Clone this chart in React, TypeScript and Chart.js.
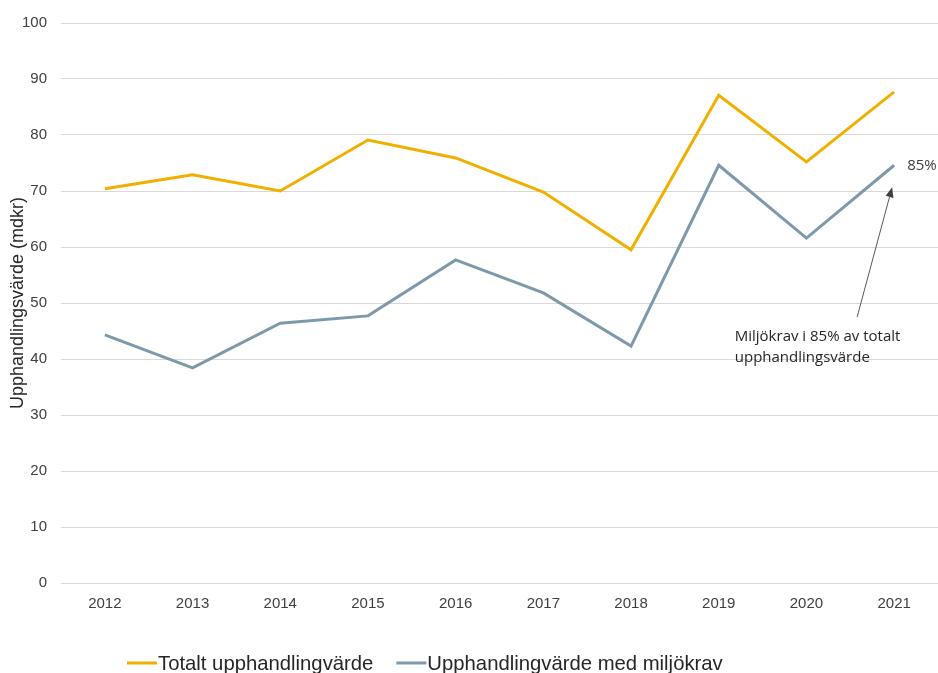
import React, { useEffect, useRef } from "react";
import { Chart, registerables } from "chart.js";

Chart.register(...registerables);

const years = ["2012", "2013", "2014", "2015", "2016", "2017", "2018", "2019", "2020", "2021"];
const totalValues = [70.4, 72.9, 70.0, 79.1, 75.9, 69.8, 59.5, 87.1, 75.2, 87.7];
const envValues = [44.3, 38.4, 46.4, 47.7, 57.7, 51.8, 42.3, 74.6, 61.6, 74.6];
const seriesLabels = ["Totalt upphandlingvärde", "Upphandlingvärde med miljökrav"];
const yAxisTitle = "Upphandlingsvärde (mdkr)";
const shareLabel = "85%";
const noteLines = ["Miljökrav i 85% av totalt", "upphandlingsvärde"];

const GOLD = "#EFB000";
const SLATE = "#7D99AB";

const notesPlugin = {
  id: "notes",
  afterDatasetsDraw(chart: any) {
    const ctx = chart.ctx;
    const xs = chart.scales.x;
    const ys = chart.scales.y;
    const last = envValues.length - 1;
    const px = xs.getPixelForValue(last);
    const py = ys.getPixelForValue(envValues[last]);
    ctx.save();
    ctx.font = '15px "Open Sans"';
    ctx.textAlign = "left";
    ctx.textBaseline = "middle";
    ctx.fillStyle = "#404040";
    ctx.fillText(shareLabel, px + 13, py);

    // arrow
    const tipX = px - 2;
    const tipY = py + 22;
    const tailX = px - 37;
    const tailY = ys.getPixelForValue(47.5);
    const ang = Math.atan2(tipY - tailY, tipX - tailX);
    const headLen = 10;
    const headW = 4;
    ctx.strokeStyle = "#595959";
    ctx.lineWidth = 1;
    ctx.beginPath();
    ctx.moveTo(tailX, tailY);
    ctx.lineTo(tipX - Math.cos(ang) * headLen, tipY - Math.sin(ang) * headLen);
    ctx.stroke();
    ctx.fillStyle = "#404040";
    ctx.beginPath();
    ctx.moveTo(tipX, tipY);
    const bx = tipX - Math.cos(ang) * headLen;
    const by = tipY - Math.sin(ang) * headLen;
    ctx.lineTo(bx + Math.sin(ang) * headW, by - Math.cos(ang) * headW);
    ctx.lineTo(bx - Math.sin(ang) * headW, by + Math.cos(ang) * headW);
    ctx.closePath();
    ctx.fill();

    // note text
    const tx = xs.getPixelForValue(last - 2) + 16;
    const ty = ys.getPixelForValue(44);
    ctx.fillStyle = "#262626";
    noteLines.forEach((l, i) => ctx.fillText(l, tx, ty + i * 21));
    ctx.restore();
  },
  afterDraw(chart: any) {
    const ctx = chart.ctx;
    ctx.save();
    ctx.font = '20.3px "Liberation Sans"';
    ctx.textAlign = "left";
    ctx.textBaseline = "alphabetic";
    let x = 127;
    const lineY = 663;
    chart.data.datasets.forEach((ds: any) => {
      ctx.strokeStyle = ds.borderColor;
      ctx.lineWidth = 3;
      ctx.beginPath();
      ctx.moveTo(x, lineY);
      ctx.lineTo(x + 30, lineY);
      ctx.stroke();
      ctx.fillStyle = "#262626";
      ctx.fillText(ds.label, x + 31, 670);
      x += 31 + ctx.measureText(ds.label).width + 23;
    });
    ctx.restore();
  },
};

export default function App() {
  const ref = useRef<HTMLCanvasElement | null>(null);
  useEffect(() => {
    if (!ref.current) return;
    const chart = new Chart(ref.current, {
      type: "line",
      data: {
        labels: years,
        datasets: [
          {
            label: seriesLabels[0],
            data: totalValues,
            borderColor: GOLD,
            backgroundColor: GOLD,
            borderWidth: 3,
            pointRadius: 0,
            tension: 0,
          },
          {
            label: seriesLabels[1],
            data: envValues,
            borderColor: SLATE,
            backgroundColor: SLATE,
            borderWidth: 3,
            pointRadius: 0,
            tension: 0,
          },
        ],
      },
      options: {
        animation: false,
        responsive: true,
        maintainAspectRatio: false,
        layout: { padding: { left: 0, right: 0, top: 23, bottom: 48 } },
        plugins: {
          legend: { display: false },
          tooltip: { enabled: false },
        },
        scales: {
          x: {
            offset: true,
            grid: { display: false, drawTicks: false },
            border: { display: false },
            ticks: {
              padding: 12,
              color: "#404040",
              font: { family: "Liberation Sans", size: 15 },
              maxRotation: 0,
            },
          },
          y: {
            min: 0,
            max: 100,
            afterFit: (scale: any) => {
              scale.width = 61;
            },
            grid: { color: "#D9D9D9", lineWidth: 1, drawTicks: false },
            border: { display: false },
            ticks: {
              stepSize: 10,
              padding: 14,
              color: "#404040",
              font: { family: "Liberation Sans", size: 15 },
            },
            title: {
              display: true,
              text: yAxisTitle,
              color: "#262626",
              font: { family: "Liberation Sans", size: 18 },
              padding: { top: 7, bottom: 0 },
            },
          },
        },
      },
      plugins: [notesPlugin],
    });
    return () => chart.destroy();
  }, []);
  return (
    <div style={{ position: "fixed", left: 0, top: 0, width: 938, height: 673, background: "#fff" }}>
      <canvas ref={ref} />
    </div>
  );
}
